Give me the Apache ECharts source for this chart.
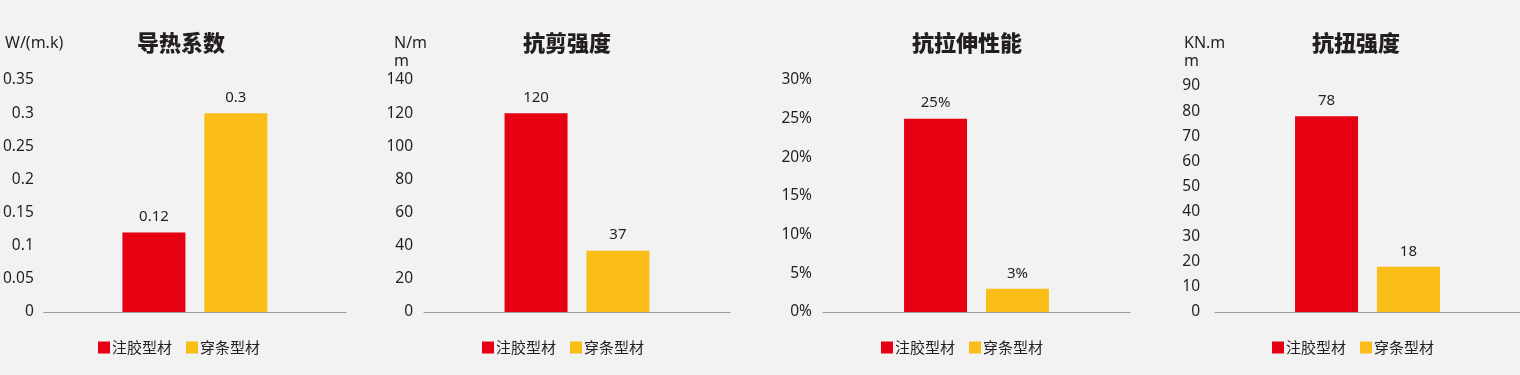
<!DOCTYPE html>
<html>
<head>
<meta charset="utf-8">
<script src="https://cdn.jsdelivr.net/npm/echarts@6/dist/echarts.min.js"></script>
<style>
html,body{margin:0;padding:0;background:#f3f2f2;}
#c{width:1520px;height:375px;}
</style>
</head>
<body>
<div id="c"></div>
<script>
// Data
const seriesNames = ['注胶型材', '穿条型材'];
const titles = ['导热系数', '抗剪强度', '抗拉伸性能', '抗扭强度'];
const units = ['W/(m.k)', 'N/m\nm', '', 'KN.m\nm'];
const glueValues = [0.12, 120, 25, 78];      // 注胶型材
const stripValues = [0.3, 37, 3, 18];        // 穿条型材
const yMax = [0.35, 140, 30, 90];
const yInterval = [0.05, 20, 5, 10];
const valueSuffix = ['', '', '%', ''];

const RED = '#e50012', YELLOW = '#fbbd18';
const FONT = '"Noto Sans", "Noto Sans CJK SC", sans-serif';
const CJK = '"Noto Sans CJK SC", sans-serif';

// layout (pixels)
const grids = [
  {left: 40, width: 306, top: 80, height: 232},
  {left: 424, width: 306, top: 80, height: 232},
  {left: 823, width: 307, top: 80, height: 232},
  {left: 1215, width: 305, top: 86, height: 226}
];
const titleCenters = [176, 562, 962, 1351];
const unitLefts = [0, 389, 0, 1179];
const legendLefts = [98, 482, 881, 1272];
const labelMargins = [10, 11, 11, 15];

const option = {
  backgroundColor: '#f3f2f2',
  animation: false,
  title: [],
  legend: [],
  grid: [],
  xAxis: [],
  yAxis: [],
  series: []
};

for (let i = 0; i < 4; i++) {
  option.grid.push(Object.assign({containLabel: false}, grids[i]));
  option.title.push({
    text: titles[i], left: titleCenters[i], top: 27, textAlign: 'center',
    textStyle: {fontFamily: CJK, fontSize: 22, fontWeight: 900, color: '#231f20'}
  });
  if (units[i]) {
    option.title.push({
      text: units[i], left: unitLefts[i], top: 29,
      textStyle: {fontFamily: FONT, fontSize: 16, fontWeight: 'normal', color: '#231f20', lineHeight: 18}
    });
  }
  option.legend.push({
    left: legendLefts[i], top: 340, padding: 0, itemWidth: 12, itemHeight: 12, itemGap: 14,
    icon: 'rect', data: seriesNames,
    textStyle: {fontFamily: CJK, fontSize: 15, color: '#231f20', padding: [0, 0, 0, -3]}
  });
  option.xAxis.push({
    type: 'category', gridIndex: i, data: [titles[i]],
    axisLine: {show: true, lineStyle: {color: '#9a9a9a', width: 1}},
    axisTick: {show: false}, axisLabel: {show: false}, splitLine: {show: false}
  });
  const suf = valueSuffix[i];
  option.yAxis.push({
    type: 'value', gridIndex: i, min: 0, max: yMax[i], interval: yInterval[i],
    axisLine: {show: false}, axisTick: {show: false}, splitLine: {show: false},
    axisLabel: {
      fontFamily: FONT, fontSize: 15.5, color: '#231f20', margin: labelMargins[i],
      formatter: v => (Math.round(v * 100) / 100) + suf
    }
  });
  const vals = [glueValues[i], stripValues[i]];
  const cols = [RED, YELLOW];
  for (let s = 0; s < 2; s++) {
    option.series.push({
      type: 'bar', name: seriesNames[s], xAxisIndex: i, yAxisIndex: i,
      data: [vals[s]], barWidth: 63, barGap: '30%',
      itemStyle: {color: cols[s]},
      label: {
        show: true, position: 'top', distance: 8,
        fontFamily: FONT, fontSize: 15, color: '#231f20',
        formatter: p => p.value + suf
      }
    });
  }
}

const chart = echarts.init(document.getElementById('c'), null, {renderer: 'canvas'});
chart.setOption(option);
</script>
</body>
</html>
